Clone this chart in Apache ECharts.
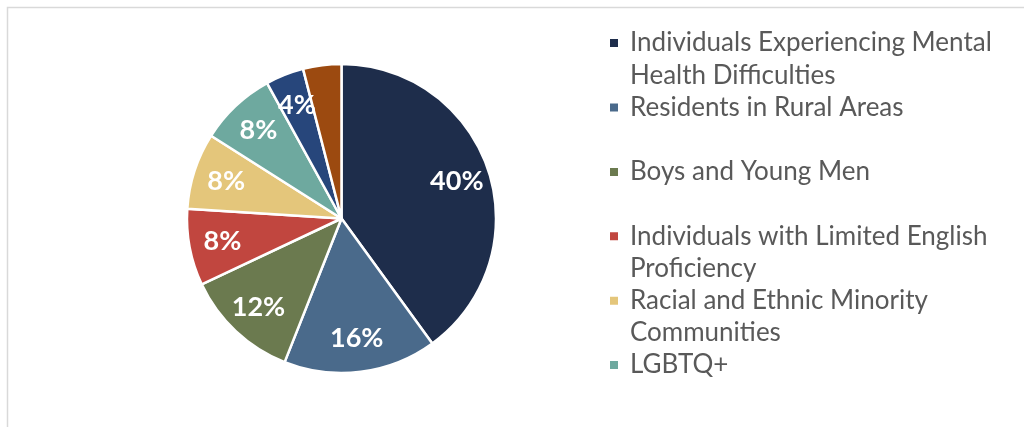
<!DOCTYPE html>
<html>
<head>
<meta charset="utf-8">
<script src="https://cdn.jsdelivr.net/npm/echarts@6/dist/echarts.min.js"></script>
<style>
  html, body { margin: 0; padding: 0; background: #fff; }
  #chart { width: 1024px; height: 427px; }
</style>
</head>
<body>
<div id="chart"></div>
<script>
var groupNames = [
    'Individuals Experiencing Mental\nHealth Difficulties',
    'Residents in Rural Areas',
    'Boys and Young Men',
    'Individuals with Limited English\nProficiency',
    'Racial and Ethnic Minority\nCommunities',
    'LGBTQ+',
    'Group 7',
    'Group 8'
];
var groupShares = [40, 16, 12, 8, 8, 8, 4, 4];
var groupColors = ['#1e2d4b', '#4a6a8b', '#6b7a4f', '#c1463f', '#e4c67b', '#6ea99f', '#27467b', '#9c4a10'];
var legendCount = 6;

var chartDom = document.getElementById('chart');
var myChart = echarts.init(chartDom);

var pieData = [];
var labelData = [];
for (var i = 0; i < groupNames.length; i++) {
    pieData.push({ name: groupNames[i], value: groupShares[i], itemStyle: { color: groupColors[i] } });
    labelData.push({ name: groupNames[i], value: groupShares[i], label: { show: i < groupNames.length - 1 } });
}

var LH = 32.2;
var center = [341.5, 218.5];
var R = 154.5;

var option = {
    animation: false,
    graphic: [{
        type: 'polyline',
        shape: { points: [[7.5, 430], [7.5, 7.5], [1030, 7.5]] },
        style: { fill: null, stroke: '#d9d9d9', lineWidth: 1.5 },
        silent: true
    }],
    legend: {
        orient: 'vertical',
        left: 608,
        top: 27 - LH,
        padding: 0,
        itemGap: -LH,
        itemWidth: 10,
        itemHeight: 10,
        icon: 'rect',
        selectedMode: false,
        data: groupNames.slice(0, legendCount),
        formatter: function (name) {
            // blank first line keeps the marker level with the first text line
            return '\n' + (name.indexOf('\n') >= 0 ? name : name + '\n ');
        },
        textStyle: {
            fontFamily: 'Lato',
            fontSize: 26,
            color: '#595959',
            lineHeight: LH,
            padding: [0, 0, 0, 6]
        }
    },
    series: [
        {
            type: 'pie',
            center: center,
            radius: [0, R],
            startAngle: 90,
            data: pieData,
            label: { show: false },
            labelLine: { show: false },
            itemStyle: { borderColor: '#ffffff', borderWidth: 2.5 },
            emphasis: { disabled: true }
        },
        {
            type: 'pie',
            center: center,
            radius: [82, R],
            startAngle: 90,
            silent: true,
            data: labelData,
            itemStyle: { color: 'rgba(0,0,0,0)', borderWidth: 0 },
            labelLine: { show: false },
            label: {
                position: 'inside',
                formatter: '{c}%',
                color: '#ffffff',
                fontFamily: 'Lato',
                fontWeight: 'bold',
                fontSize: 27
            },
            emphasis: { disabled: true }
        }
    ]
};

option && myChart.setOption(option);
</script>
</body>
</html>
